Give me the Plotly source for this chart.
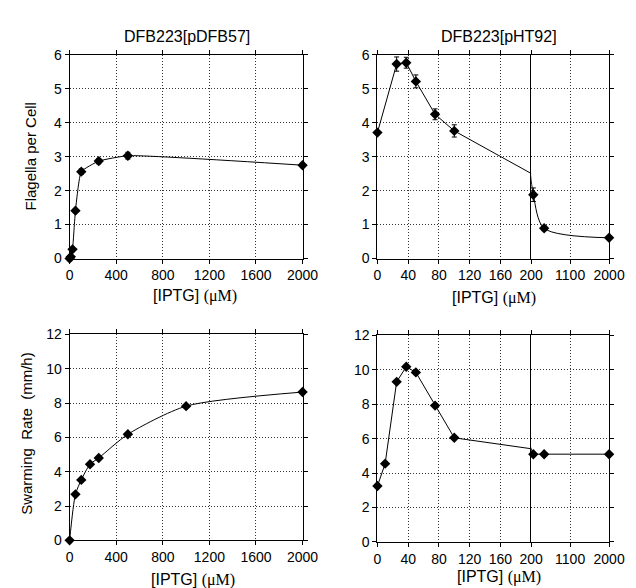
import plotly.graph_objects as go

# ---------------- data ----------------
# Top-left: DFB223[pDFB57], flagella per cell
tl_x = [0, 10, 25, 50, 100, 250, 500, 2000]
tl_y = [0, 0.05, 0.27, 1.41, 2.56, 2.87, 3.03, 2.75]
tl_err = [0, 0, 0.04, 0.06, 0.08, 0.08, 0.10, 0.07]

# Top-right: DFB223[pHT92], flagella per cell
tr_x = [0, 25, 37.5, 50, 75, 100, 250, 500, 2000]
tr_y = [3.71, 5.73, 5.77, 5.22, 4.25, 3.76, 1.88, 0.89, 0.61]
tr_err = [0.05, 0.21, 0.16, 0.19, 0.16, 0.18, 0.2, 0.07, 0.03]

# Bottom-left: DFB223[pDFB57], swarming rate
bl_x = [0, 50, 100, 175, 250, 500, 1000, 2000]
bl_y = [0, 2.68, 3.52, 4.43, 4.8, 6.18, 7.82, 8.64]

# Bottom-right: DFB223[pHT92], swarming rate
br_x = [0, 10, 25, 37.5, 50, 75, 100, 250, 500, 2000]
br_y = [3.25, 4.55, 9.3, 10.18, 9.85, 7.92, 6.05, 5.1, 5.1, 5.1]

left_ticks = [0, 400, 800, 1200, 1600, 2000]
seg1_ticks = [0, 40, 80, 120, 160, 200]
seg2_ticks = [1100, 2000]
flag_ticks = [0, 1, 2, 3, 4, 5, 6]
swarm_ticks = [0, 2, 4, 6, 8, 10, 12]

titles = ["DFB223[pDFB57]", "DFB223[pHT92]"]
ytitles = ["Flagella per Cell", "Swarming\u00a0\u00a0Rate\u00a0\u00a0(mm/h)"]
xtitle = '[IPTG]\u00a0<span style="font-family:Liberation Serif">(\u03bcM)</span>'

W, H = 636, 588
FONT = "Liberation Sans, Arial, sans-serif"


def px(v):
    return v / W


def py(v):
    return 1 - v / H


fig = go.Figure()


def lines(x, y, ax, shape="linear", smoothing=1.0):
    fig.add_trace(go.Scatter(
        x=x, y=y, mode="lines", xaxis="x" + ax, yaxis="y" + ax,
        line=dict(color="black", width=1, shape=shape, smoothing=smoothing),
        hoverinfo="skip", showlegend=False))


def marks(x, y, ax, err=None, lo=None, hi=None):
    pts = [(a, b, (err[i] if err else 0)) for i, (a, b) in enumerate(zip(x, y))
           if (lo is None or a >= lo) and (hi is None or a <= hi)]
    xs = [p[0] for p in pts]
    ys = [p[1] for p in pts]
    es = [p[2] for p in pts]
    fig.add_trace(go.Scatter(
        x=xs, y=ys, mode="markers", xaxis="x" + ax, yaxis="y" + ax,
        marker=dict(symbol="diamond", size=8, color="black"),
        error_y=dict(type="data", array=es, visible=err is not None,
                     color="black", thickness=1, width=2.5),
        cliponaxis=False, showlegend=False))


# top-left
lines(tl_x, tl_y, "", shape="spline", smoothing=0.4)
marks(tl_x, tl_y, "", err=tl_err)
# top-right (broken axis: two segments)
lines(tr_x, tr_y, "2")
marks(tr_x, tr_y, "2", err=tr_err, hi=200)
lines(tr_x, tr_y, "3", shape="spline", smoothing=0.8)
marks(tr_x, tr_y, "3", err=tr_err, lo=200)
# bottom-left
lines(bl_x, bl_y, "4", shape="spline", smoothing=0.7)
marks(bl_x, bl_y, "4")
# bottom-right
lines(br_x, br_y, "5")
marks(br_x, br_y, "5", hi=200)
lines(br_x, br_y, "6")
marks(br_x, br_y, "6", lo=200)

common = dict(showline=True, linecolor="black", linewidth=1,
              ticks="outside", ticklen=4, tickcolor="black", tickwidth=1,
              showgrid=True, gridcolor="#333", griddash="1px,2px", gridwidth=1,
              zeroline=False, tickfont=dict(family=FONT, size=14, color="black"))

top_y = [py(249.3), py(40)]
botL_y = [py(539), py(327.3)]
botR_y = [py(540.7), py(328.3)]
left_x = [px(59.5), px(300)]
seg1_x = [px(377.3), px(536)]
seg2_x = [px(536), px(616.5)]

layout = dict(
    width=W, height=H, margin=dict(l=0, r=0, t=0, b=0),
    paper_bgcolor="white", plot_bgcolor="white", showlegend=False,
    font=dict(family=FONT, color="black"),
    # top-left
    xaxis=dict(common, domain=left_x, anchor="y", range=[0, 2000],
               tickvals=left_ticks, mirror="ticks"),
    yaxis=dict(common, domain=top_y, anchor="x", range=[0, 6],
               tickvals=flag_ticks, mirror="ticks"),
    # top-right seg 1
    xaxis2=dict(common, domain=seg1_x, anchor="y2", range=[0, 200],
                tickvals=seg1_ticks, mirror="ticks"),
    yaxis2=dict(common, domain=top_y, anchor="x2", range=[0, 6],
                tickvals=flag_ticks, mirror=False),
    # top-right seg 2
    xaxis3=dict(common, domain=seg2_x, anchor="y3", range=[200, 2000],
                tickvals=seg2_ticks, mirror="ticks"),
    yaxis3=dict(common, domain=top_y, anchor="x3", range=[0, 6],
                tickvals=flag_ticks, side="right", showticklabels=False,
                mirror=True),
    # bottom-left
    xaxis4=dict(common, domain=left_x, anchor="y4", range=[0, 2000],
                tickvals=left_ticks, mirror="ticks"),
    yaxis4=dict(common, domain=botL_y, anchor="x4", range=[0, 12],
                tickvals=swarm_ticks, mirror="ticks"),
    # bottom-right seg 1
    xaxis5=dict(common, domain=seg1_x, anchor="y5", range=[0, 200],
                tickvals=seg1_ticks, mirror="ticks"),
    yaxis5=dict(common, domain=botR_y, anchor="x5", range=[0, 12],
                tickvals=swarm_ticks, mirror=False),
    # bottom-right seg 2
    xaxis6=dict(common, domain=seg2_x, anchor="y6", range=[200, 2000],
                tickvals=seg2_ticks, mirror="ticks"),
    yaxis6=dict(common, domain=botR_y, anchor="x6", range=[0, 12],
                tickvals=swarm_ticks, side="right", showticklabels=False,
                mirror=True),
)
fig.update_layout(**layout)

ann = []


def note(text, x, y, size, angle=0):
    ann.append(dict(text=text, x=px(x), y=py(y), xref="paper", yref="paper",
                    showarrow=False, xanchor="center", yanchor="middle",
                    textangle=angle, font=dict(family=FONT, size=size, color="black")))


note(titles[0], 181, 21, 16)
note(titles[1], 503, 21, 16)
note(ytitles[0], 19, 144, 15, -90)
note(ytitles[1], 15, 429, 15, -90)
note(xtitle, 189, 288, 16)
note(xtitle, 498, 290, 16)
note(xtitle, 187, 580, 16)
note(xtitle, 503, 577, 16)
fig.update_layout(annotations=ann)

fig.write_html("out.html")
